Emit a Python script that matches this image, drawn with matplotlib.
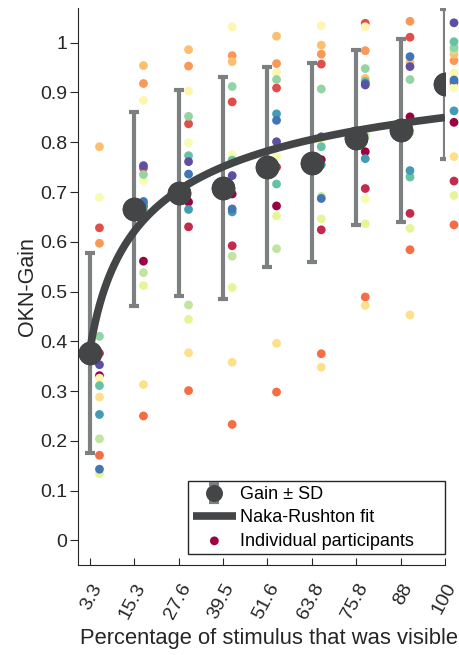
import numpy as np
import matplotlib.pyplot as plt

plt.rcParams['font.family'] = ['Liberation Sans', 'DejaVu Sans']

# Conditions (percentage of stimulus visible)
pct = [3.3, 15.3, 27.6, 39.5, 51.6, 63.8, 75.8, 88, 100]
pct_labels = ['3.3', '15.3', '27.6', '39.5', '51.6', '63.8', '75.8', '88', '100']

# Group mean and SD
gain_mean = [0.377, 0.665, 0.698, 0.708, 0.751, 0.759, 0.809, 0.824, 0.917]
gain_sd = [0.201, 0.195, 0.206, 0.223, 0.201, 0.200, 0.176, 0.184, 0.150]

# Naka-Rushton fit parameters
nr_rmax = 1.032
nr_c50 = 7.69
nr_n = 0.6

# Individual participants (rows: participant, cols: condition)
participants = [
    [0.331, 0.561, 0.680, 0.696, 0.672, 0.765, 0.781, 0.851, 0.840],
    [0.376, 0.671, 0.630, 0.592, 0.750, 0.624, 0.707, 0.657, 0.722],
    [0.628, 0.748, 0.837, 0.881, 0.909, 0.957, 1.039, 1.011, 0.920],
    [0.171, 0.250, 0.301, 0.233, 0.298, 0.375, 0.489, 0.584, 0.634],
    [0.597, 0.918, 0.953, 0.974, 0.958, 0.977, 0.984, 1.043, 0.964],
    [0.791, 0.954, 0.986, 0.962, 1.013, 0.995, 0.928, 0.960, 0.977],
    [0.288, 0.313, 0.377, 0.358, 0.396, 0.348, 0.472, 0.453, 0.771],
    [0.326, 0.884, 0.903, 1.032, 0.940, 1.034, 1.032, 0.735, 0.939],
    [0.689, 0.723, 0.799, 0.775, 0.771, 0.800, 0.686, 0.734, 0.910],
    [0.134, 0.512, 0.444, 0.508, 0.652, 0.646, 0.636, 0.627, 0.693],
    [0.204, 0.538, 0.473, 0.571, 0.586, 0.691, 0.813, 0.820, 0.985],
    [0.410, 0.735, 0.852, 0.912, 0.926, 0.907, 0.948, 0.926, 0.990],
    [0.311, 0.664, 0.773, 0.764, 0.716, 0.791, 0.922, 0.730, 1.002],
    [0.253, 0.675, 0.665, 0.660, 0.857, 0.755, 0.767, 0.743, 0.863],
    [0.143, 0.681, 0.736, 0.666, 0.844, 0.687, 0.918, 0.972, 0.925],
    [0.353, 0.753, 0.761, 0.733, 0.801, 0.811, 0.915, 0.952, 1.040],
]

fig = plt.figure(figsize=(4.6, 6.55), dpi=100)
ax = fig.add_axes([0.170, 0.137, 0.797, 0.851])

colors = plt.cm.Spectral(np.linspace(0, 1, len(participants)))
x = np.array(pct)
for i, vals in enumerate(participants):
    ax.scatter(x + 2.5, vals, s=40, color=colors[i], edgecolors='none',
               zorder=1, clip_on=False,
               label='Individual participants' if i == 0 else None)

eb = ax.errorbar(pct, gain_mean, yerr=gain_sd, fmt='o', color='#444546',
                 ecolor='#7d8080', elinewidth=3, capsize=3.5, capthick=3,
                 markersize=16, zorder=2, label='Gain \u00b1 SD')

xf = np.linspace(pct[0], pct[-1], 300)
yf = nr_rmax * xf**nr_n / (xf**nr_n + nr_c50**nr_n)
ax.plot(xf, yf, color='#444546', lw=5.5, zorder=3, label='Naka-Rushton fit',
        solid_capstyle='butt')
ax.plot(pct, gain_mean, 'o', color='#444546', markersize=16, zorder=4)

ax.set_xlim(0, 100)
ax.set_ylim(-0.05, 1.07)
ax.set_xticks(pct)
ax.set_xticklabels(pct_labels, rotation=62, ha='right', va='top',
                   rotation_mode='anchor')
ax.set_yticks(np.arange(0, 1.01, 0.1))
ax.set_yticklabels(['0'] + ['%.1f' % v for v in np.arange(0.1, 0.95, 0.1)] + ['1'])
ax.tick_params(labelsize=14, colors='#262626')
ax.tick_params(axis='x', direction='in', length=5, pad=11)
ax.tick_params(axis='y', direction='out', length=6, pad=2)
for s in ['top', 'right']:
    ax.spines[s].set_visible(False)
for s in ['left', 'bottom']:
    ax.spines[s].set_color('#262626')

ax.set_xlabel('Percentage of stimulus that was visible', fontsize=15.8,
              color='#262626')
ax.xaxis.set_label_coords(0.52, -0.112)
ax.set_ylabel('OKN-Gain', fontsize=15.5, color='#262626', labelpad=1)

handles, labels = ax.get_legend_handles_labels()
order = [labels.index('Gain \u00b1 SD'), labels.index('Naka-Rushton fit'),
         labels.index('Individual participants')]
leg = ax.legend([handles[k] for k in order], [labels[k] for k in order],
                loc='lower left', bbox_to_anchor=(0.300, 0.02, 0.700, 0.1),
                mode='expand', fontsize=13,
                frameon=True, fancybox=False, edgecolor='#262626', framealpha=1,
                handlelength=2.4, handletextpad=0.2, borderpad=0.25,
                labelspacing=0.35, markerscale=0.7, borderaxespad=0)
leg.get_frame().set_linewidth(1.0)
leg.legend_handles[2].set_sizes([40])

fig.savefig('out.png', dpi=100)
